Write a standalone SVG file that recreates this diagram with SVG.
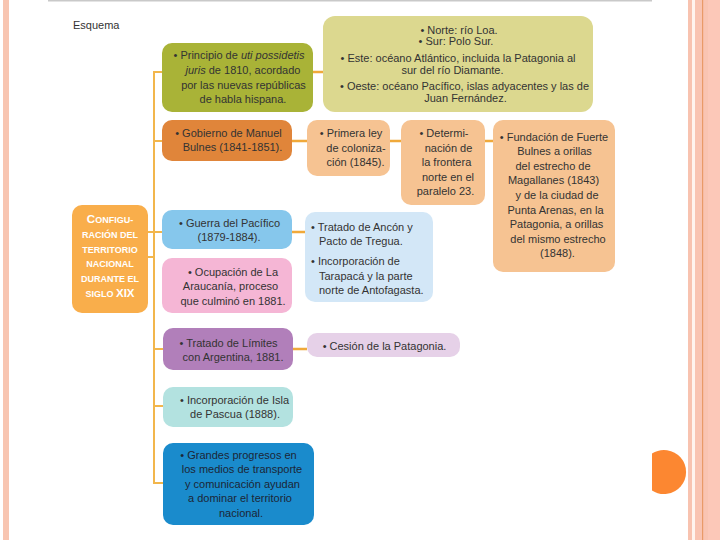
<svg xmlns="http://www.w3.org/2000/svg" width="720" height="540" viewBox="0 0 720 540">
<style>
text{font-family:"Liberation Sans",Arial,sans-serif;font-size:11px;fill:#333333}
.c{text-anchor:middle}
.m{font-weight:bold;fill:#ffffff;text-anchor:middle;font-size:9px}
.m .b{font-size:11.5px}
.i{font-style:italic}
.tr{fill:none;stroke:#f2b64c;stroke-width:2}
.cn{fill:none;stroke:#f0a93a;stroke-width:2.6}
</style>
<rect width="720" height="540" fill="#ffffff"/>
<g id="decor">
<rect x="3" y="0" width="6" height="540" fill="#f8c5b1"/>
<rect x="48" y="0" width="604" height="1.5" fill="#c9c9c9"/>
<rect x="688" y="0" width="4" height="540" fill="#f8c3b0"/>
<rect x="692" y="0" width="3" height="540" fill="#fff4ee"/>
<rect x="695" y="0" width="13" height="540" fill="#f9c4b2"/>
<rect x="702" y="0" width="1.2" height="540" fill="#e99a68"/>
<rect x="708" y="0" width="12" height="540" fill="#fcc8b8"/>
<path d="M652,453.6 A22,22 0 1 1 652,490.4 Z" fill="#fc8731"/>
</g>
<text x="73" y="29">Esquema</text>
<g id="connectors">
<path class="tr" d="M163,72 H154 V483 H163"/>
<path class="tr" d="M154,141 H163 M148,232 H163 M148,257 H154 M154,349 H163 M154,406 H163"/>
<path class="cn" d="M313,72 H323 M292,141 H307 M390,141 H401 M485,141 H493 M292,232 H305 M293,349 H307"/>
</g>
<g id="main">
<rect x="72" y="205" width="76" height="108" rx="10" fill="#f9ae4b"/>
<text class="m" x="110" y="223"><tspan class="b">C</tspan>ONFIGU-</text>
<text class="m" x="110" y="238">RACIÓN DEL</text>
<text class="m" x="110" y="252.5">TERRITORIO</text>
<text class="m" x="110" y="267">NACIONAL</text>
<text class="m" x="110" y="282">DURANTE EL</text>
<text class="m" x="110" y="297">SIGLO <tspan class="b">XIX</tspan></text>
</g>
<g id="principio">
<rect x="162" y="43" width="151" height="69" rx="10" fill="#a9b337"/>
<text class="c" x="239" y="59">• Principio de <tspan class="i">uti possidetis</tspan></text>
<text class="c" x="243" y="74"><tspan class="i">juris</tspan> de 1810, acordado</text>
<text class="c" x="243.5" y="88.5">por las nuevas repúblicas</text>
<text class="c" x="243" y="103">de habla hispana.</text>
</g>
<g id="limites">
<rect x="323" y="16" width="270" height="96" rx="12" fill="#dcd88f"/>
<text class="c" x="459" y="33.5">• Norte: río Loa.</text>
<text class="c" x="456" y="45">• Sur: Polo Sur.</text>
<text class="c" x="458" y="62">• Este: océano Atlántico, incluida la Patagonia al</text>
<text class="c" x="452.5" y="73.5">sur del río Diamante.</text>
<text class="c" x="464.5" y="90">• Oeste: océano Pacífico, islas adyacentes y las de</text>
<text class="c" x="465.5" y="101.5">Juan Fernández.</text>
</g>
<g id="bulnes">
<rect x="162" y="120" width="130" height="41" rx="10" fill="#e0853a"/>
<text class="c" x="228.5" y="137">• Gobierno de Manuel</text>
<text class="c" x="232.5" y="151">Bulnes (1841-1851).</text>
</g>
<g id="colonizacion">
<rect x="307" y="120" width="83" height="56" rx="10" fill="#f6c392"/>
<text class="c" x="351" y="137">• Primera ley</text>
<text class="c" x="356" y="151.5">de coloniza-</text>
<text class="c" x="355.5" y="165.5">ción (1845).</text>
</g>
<g id="frontera">
<rect x="401" y="120" width="84" height="85" rx="10" fill="#f6c392"/>
<text class="c" x="444" y="137">• Determi-</text>
<text class="c" x="448.5" y="151.5">nación de</text>
<text class="c" x="446.5" y="166">la frontera</text>
<text class="c" x="448" y="180.5">norte en el</text>
<text class="c" x="445.5" y="195">paralelo 23.</text>
</g>
<g id="fuerte">
<rect x="493" y="120" width="122" height="152" rx="10" fill="#f6c392"/>
<text class="c" x="554" y="140.5">• Fundación de Fuerte</text>
<text class="c" x="554.5" y="155.1">Bulnes a orillas</text>
<text class="c" x="553" y="169.7">del estrecho de</text>
<text class="c" x="553.5" y="184.3">Magallanes (1843)</text>
<text class="c" x="557" y="198.9">y de la ciudad de</text>
<text class="c" x="555.5" y="213.5">Punta Arenas, en la</text>
<text class="c" x="556.5" y="228.1">Patagonia, a orillas</text>
<text class="c" x="558" y="242.7">del mismo estrecho</text>
<text class="c" x="557.5" y="257.3">(1848).</text>
</g>
<g id="guerra">
<rect x="162" y="210" width="130" height="39" rx="10" fill="#86c7ec"/>
<text class="c" x="229.5" y="227">• Guerra del Pacífico</text>
<text class="c" x="229" y="241">(1879-1884).</text>
</g>
<g id="ancon">
<rect x="305" y="212" width="128" height="90" rx="10" fill="#d3e7f7"/>
<text x="311" y="230.5">• Tratado de Ancón y</text>
<text x="319" y="245">Pacto de Tregua.</text>
<text x="311" y="265">• Incorporación de</text>
<text x="319" y="279.5">Tarapacá y la parte</text>
<text x="319" y="294">norte de Antofagasta.</text>
</g>
<g id="araucania">
<rect x="162" y="258" width="130" height="55" rx="10" fill="#f5b6d5"/>
<text class="c" x="233" y="275.5">• Ocupación de La</text>
<text class="c" x="230.5" y="290">Araucanía, proceso</text>
<text class="c" x="233" y="304.5">que culminó en 1881.</text>
</g>
<g id="tratado">
<rect x="163" y="328" width="130" height="42" rx="10" fill="#b17fba"/>
<text class="c" x="228.5" y="346.5">• Tratado de Límites</text>
<text class="c" x="233" y="361">con Argentina, 1881.</text>
</g>
<g id="cesion">
<rect x="307" y="333" width="153" height="24" rx="10" fill="#e6d1e8"/>
<text class="c" x="384.5" y="350">• Cesión de la Patagonia.</text>
</g>
<g id="pascua">
<rect x="163" y="387" width="130" height="40" rx="10" fill="#b3e2e0"/>
<text class="c" x="234.5" y="404">• Incorporación de Isla</text>
<text class="c" x="235" y="417.5">de Pascua (1888).</text>
</g>
<g id="progresos">
<rect x="163" y="443" width="151" height="82" rx="10" fill="#1a8bcc"/>
<text class="c" x="238.5" y="459" style="fill:#1c2636">• Grandes progresos en</text>
<text class="c" x="242" y="473" style="fill:#1c2636">los medios de transporte</text>
<text class="c" x="242.5" y="487.5" style="fill:#1c2636">y comunicación ayudan</text>
<text class="c" x="240" y="502" style="fill:#1c2636">a dominar el territorio</text>
<text class="c" x="241" y="517" style="fill:#1c2636">nacional.</text>
</g>
</svg>
